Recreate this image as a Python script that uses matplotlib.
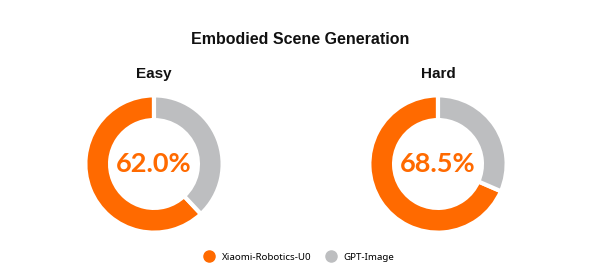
import matplotlib.pyplot as plt

# Données
panels = ["Easy", "Hard"]
u0_share = [62.0, 68.5]
series = ["Xiaomi-Robotics-U0", "GPT-Image"]
colors = ["#FF6A00", "#BDBEC0"]

W, H = 600, 267
fig = plt.figure(figsize=(W / 100, H / 100), dpi=100)

fig.text(0.5, 1 - 39 / H, "Embodied Scene Generation", ha="center", va="center",
         fontsize=11.5, fontweight="bold", family="Liberation Sans", color="#111111")

centers = [(154, 164), (438, 164)]
r = 70
for (cx, cy), name, val in zip(centers, panels, u0_share):
    ax = fig.add_axes([(cx - r) / W, (H - cy - r) / H, 2 * r / W, 2 * r / H])
    ax.pie([val, 100 - val], colors=colors, startangle=90, counterclock=True,
           wedgeprops=dict(width=0.36, edgecolor="white", linewidth=3))
    ax.set_xlim(-1.02, 1.02)
    ax.set_ylim(-1.02, 1.02)
    ax.set_aspect("equal")
    ax.text(0, 0, f"{val:.1f}%", ha="center", va="center", fontsize=19.5,
            fontweight="bold", family="Lato", color=colors[0])
    fig.text(cx / W, 1 - 74 / H, name, ha="center", va="center", fontsize=11,
             fontweight="bold", family="Liberation Sans", color="#111111")

handles = [plt.Line2D([], [], marker="o", linestyle="", markersize=8,
                      markerfacecolor=c, markeredgecolor=c) for c in colors]
fig.legend(handles, series, loc="center", bbox_to_anchor=(297 / W, 1 - 257 / H),
           ncol=2, frameon=False, handletextpad=0.3, columnspacing=1.0,
           prop=dict(family="Noto Sans", size=7))

plt.savefig("out.png", dpi=100)
